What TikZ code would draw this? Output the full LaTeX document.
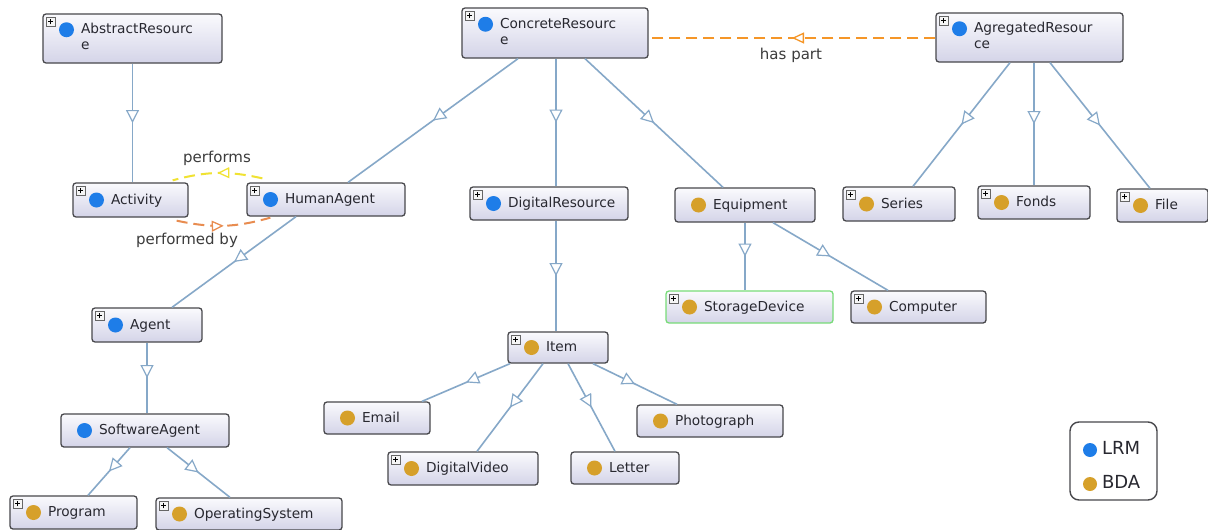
\documentclass[tikz,border=0pt]{standalone}
\usepackage{fontspec}
\setmainfont{DejaVu Sans}
\usetikzlibrary{arrows.meta,decorations.markings}
\definecolor{lrmc}{RGB}{30,125,232}
\definecolor{bdac}{RGB}{214,160,42}
\definecolor{nodetop}{RGB}{250,250,253}
\definecolor{nodebot}{RGB}{212,212,232}
\definecolor{nodeborder}{RGB}{72,72,76}
\definecolor{edgec}{RGB}{134,168,200}
\definecolor{haspartc}{RGB}{245,150,40}
\definecolor{perfc}{RGB}{240,226,50}
\definecolor{perfbyc}{RGB}{232,140,80}
\definecolor{textc}{RGB}{40,40,48}
\definecolor{labc}{RGB}{60,60,60}
\definecolor{storc}{RGB}{120,220,120}
\newsavebox\lrmdotbox
\sbox\lrmdotbox{\tikz\fill[lrmc] (0,0) circle (7.5pt);}
\newsavebox\bdadotbox
\sbox\bdadotbox{\tikz\fill[bdac] (0,0) circle (7.5pt);}
\newsavebox\lrmdotsm
\sbox\lrmdotsm{\tikz\fill[lrmc] (0,0) circle (7pt);}
\newsavebox\bdadotsm
\sbox\bdadotsm{\tikz\fill[bdac] (0,0) circle (7pt);}
\newcommand\lrmlab[1]{\mbox{\raisebox{-3.3pt}{\usebox\lrmdotbox}\hspace{7pt}#1}}
\newcommand\bdalab[1]{\mbox{\raisebox{-3.3pt}{\usebox\bdadotbox}\hspace{7pt}#1}}
\newcommand\twol[2]{\begin{tabular}[t]{@{}l@{}}#1\\#2\end{tabular}}
\newcommand\nodefont{\fontsize{13.7}{16}\selectfont}
\newcommand\labfont{\fontsize{15}{18}\selectfont}
\begin{document}
\begin{tikzpicture}[x=1pt,y=-1pt,
  cls/.style n args={2}{draw=nodeborder, line width=1.3pt, rounded corners=3pt,
    top color=nodetop, bottom color=nodebot, minimum width=#1pt, minimum height=#2pt,
    text width=#1pt-32pt, inner xsep=16pt, inner ysep=0pt, align=left,
    font=\nodefont, text=textc},
  greenborder/.style={draw=storc},
  plusbox/.style={draw=gray!80!black, fill=gray!8, minimum size=9pt, inner sep=0pt,
    line width=0.6pt, rounded corners=0pt,
    path picture={\draw[line width=1pt,black]
      ([xshift=-2.6pt]path picture bounding box.center) -- ([xshift=2.6pt]path picture bounding box.center)
      ([yshift=-2.6pt]path picture bounding box.center) -- ([yshift=2.6pt]path picture bounding box.center);}},
  sub/.style={draw=edgec, line width=1.6pt, postaction={decorate},
    decoration={markings, mark=at position 0.5 with {\arrow[line width=1.2pt]{Triangle[length=13pt,width=13pt,fill=white]}}}},
  obj/.style={draw=#1, line width=2pt, dash pattern=on 11pt off 6pt, postaction={decorate},
    decoration={markings, mark=at position 0.5 with {\arrow[solid,line width=1.3pt]{Triangle[length=12pt,width=11pt,fill=white]}}}},
  lab/.style={font=\labfont, text=labc, inner sep=1pt},
  legbox/.style={draw=nodeborder, line width=1.4pt, rounded corners=9pt, fill=white,
    minimum width=87pt, minimum height=78pt, text width=61pt, inner xsep=13pt,
    align=left, font=\fontsize{18}{34}\selectfont, text=textc}
]
\useasboundingbox (0,0) rectangle (1208,530);
\fill[white] (0,0) rectangle (1208,530);

% classes
\node[cls={179}{49}] (abs) at (132.5,38.5) {\lrmlab{\twol{AbstractResourc}{e}}};
\node[cls={186}{50}] (conc) at (555,33) {\lrmlab{\twol{ConcreteResourc}{e}}};
\node[cls={187}{49}] (agr) at (1029.5,37.5) {\lrmlab{\twol{AgregatedResour}{ce}}};
\node[cls={115}{34}] (act) at (130.5,200) {\lrmlab{Activity}};
\node[cls={158}{33}] (hum) at (326,199.5) {\lrmlab{HumanAgent}};
\node[cls={158}{33}] (digr) at (549,203.5) {\lrmlab{DigitalResource}};
\node[cls={140}{34}] (equip) at (745,205) {\bdalab{Equipment}};
\node[cls={112}{34}] (series) at (899,204) {\bdalab{Series}};
\node[cls={112}{33}] (fonds) at (1034,202.5) {\bdalab{Fonds}};
\node[cls={91}{33}] (file) at (1162.5,205.5) {\bdalab{File}};
\node[cls={167}{32}, greenborder] (stor) at (749.5,307) {\bdalab{StorageDevice}};
\node[cls={135}{32}] (comp) at (918.5,307) {\bdalab{Computer}};
\node[cls={110}{34}] (agent) at (147,325) {\lrmlab{Agent}};
\node[cls={100}{31}] (item) at (558,347.5) {\bdalab{Item}};
\node[cls={106}{32}] (email) at (377,418) {\bdalab{Email}};
\node[cls={146}{32}] (photo) at (710,421) {\bdalab{Photograph}};
\node[cls={150}{33}] (dvid) at (463,468.5) {\bdalab{DigitalVideo}};
\node[cls={108}{32}] (letter) at (625,468) {\bdalab{Letter}};
\node[cls={168}{33}] (soft) at (145,430.5) {\lrmlab{SoftwareAgent}};
\node[cls={127}{33}] (prog) at (73.5,512.5) {\bdalab{Program}};
\node[cls={186}{32}] (os) at (249,514) {\bdalab{OperatingSystem}};

\foreach \n in {abs,conc,agr,act,hum,digr,series,fonds,file,stor,comp,agent,item,dvid,prog,os}
  \node[plusbox] (\n-plus) at ([xshift=8.5pt,yshift=-8.5pt]\n.north west) {};

% subclass edges
\draw[sub] (abs.south) -- (abs.south |- act.north);
\draw[sub] ([xshift=-37pt]conc.south) -- ([xshift=22pt]hum.north);
\draw[sub] ([xshift=1pt]conc.south) -- ([xshift=1pt]conc.south |- digr.north);
\draw[sub] ([xshift=30pt]conc.south) -- ([xshift=-22pt]equip.north);
\draw[sub] ([xshift=-19.5pt]agr.south) -- ([xshift=14pt]series.north);
\draw[sub] (fonds.north |- agr.south) -- (fonds.north);
\draw[sub] ([xshift=20.5pt]agr.south) -- ([xshift=-12.5pt]file.north);
\draw[sub] ([xshift=-30pt]hum.south) -- ([xshift=25pt]agent.north);
\draw[sub] ([xshift=7pt]digr.south) -- ([xshift=-2pt]item.north);
\draw[sub] (equip.south) -- (equip.south |- stor.north);
\draw[sub] ([xshift=28pt]equip.south) -- ([xshift=-30.5pt]comp.north);
\draw[sub] (agent.south) -- (agent.south |- soft.north);
\draw[sub] ([xshift=-15pt]soft.south) -- ([xshift=14.5pt]prog.north);
\draw[sub] ([xshift=22pt]soft.south) -- ([xshift=-19pt]os.north);
\draw[sub] ([xshift=-48pt]item.south) -- ([xshift=45pt]email.north);
\draw[sub] ([xshift=-15pt]item.south) -- ([xshift=14pt]dvid.north);
\draw[sub] ([xshift=10pt]item.south) -- ([xshift=-10pt]letter.north);
\draw[sub] ([xshift=35pt]item.south) -- ([xshift=-33pt]photo.north);

% object properties
\draw[obj=haspartc] ([yshift=-0.5pt]agr.west) -- ([yshift=-0.5pt]agr.west -| conc.east);
\node[lab] (haspartl) at (791,55) {has part};
\draw[obj=perfc] ([xshift=16pt,yshift=4pt]hum.north west) to[bend right=14] ([xshift=-16pt,yshift=2pt]act.north east);
\node[lab] (perfl) at (217,158) {performs};
\draw[obj=perfbyc] ([xshift=-12pt,yshift=-3pt]act.south east) to[bend right=14] ([xshift=24pt,yshift=-1pt]hum.south west);
\node[lab] (perfbyl) at (187,240) {performed by};

% legend
\node[legbox] (legend) at (1113.5,461) {\rule{0pt}{23pt}\raisebox{-3pt}{\usebox\lrmdotsm}\hspace{5pt}LRM\\\raisebox{-3pt}{\usebox\bdadotsm}\hspace{5pt}BDA};
\end{tikzpicture}
\end{document}
